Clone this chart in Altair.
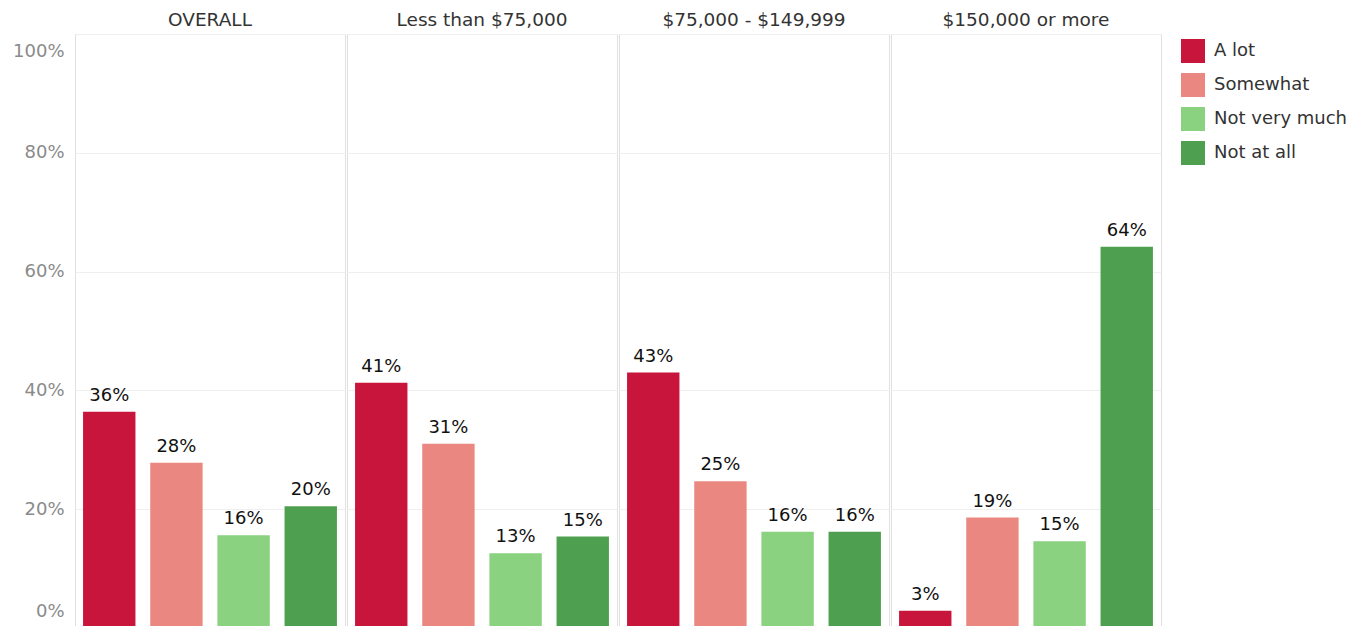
import altair as alt
import pandas as pd

groups = ["OVERALL", "Less than $75,000", "$75,000 - $149,999", "$150,000 or more"]
responses = ["A lot", "Somewhat", "Not very much", "Not at all"]
colors = ["#c8153b", "#ea8781", "#8ad180", "#4ea050"]

overall = [36.4, 27.8, 15.6, 20.5]
less_75k = [41.3, 31.0, 12.6, 15.4]
mid_75k_150k = [43.0, 24.7, 16.2, 16.2]
over_150k = [2.9, 18.6, 14.6, 64.2]

overall_lbl = ["36%", "28%", "16%", "20%"]
less_75k_lbl = ["41%", "31%", "13%", "15%"]
mid_75k_150k_lbl = ["43%", "25%", "16%", "16%"]
over_150k_lbl = ["3%", "19%", "15%", "64%"]

rows = []
for g, vals, lbls in zip(groups,
                         [overall, less_75k, mid_75k_150k, over_150k],
                         [overall_lbl, less_75k_lbl, mid_75k_150k_lbl, over_150k_lbl]):
    for r, v, l in zip(responses, vals, lbls):
        rows.append({"group": g, "response": r, "value": v / 100.0, "label": l})
df = pd.DataFrame(rows)

FONT = "DejaVu Sans"

x_enc = alt.X("response:N", sort=responses, axis=None,
              scale=alt.Scale(paddingInner=0.22, paddingOuter=0.12))
y_enc = alt.Y("value:Q",
              scale=alt.Scale(domain=[0, 1]),
              axis=alt.Axis(title=None, format=".0%", values=[0, 0.2, 0.4, 0.6, 0.8, 1.0],
                            labelFontSize=18, labelColor="#8a8a8a", labelFont=FONT,
                            labelPadding=10, ticks=False, domain=False,
                            gridColor="#efefef", labelFlush=True, labelFlushOffset=-8))

bars = alt.Chart().mark_bar().encode(
    x=x_enc,
    y=y_enc,
    color=alt.Color("response:N", sort=responses,
                    scale=alt.Scale(domain=responses, range=colors),
                    legend=alt.Legend(title=None, symbolType="square", symbolSize=576,
                                      symbolStrokeWidth=0, labelFontSize=18, labelFont=FONT,
                                      labelColor="#333333", rowPadding=10, offset=14,
                                      padding=5, labelOffset=9)),
)

text = alt.Chart().mark_text(baseline="bottom", dy=-7, fontSize=18, font=FONT, color="#111111").encode(
    x=alt.X("response:N", sort=responses),
    y=alt.Y("value:Q"),
    text="label:N",
)

chart = alt.layer(bars, text, data=df).properties(width=270, height=594).facet(
    column=alt.Column("group:N", sort=groups,
                      header=alt.Header(title=None, labelFontSize=18.5, labelFont=FONT,
                                        labelColor="#333333", labelPadding=4))
).properties(spacing=0, padding={"left": 4, "top": 2, "right": 0, "bottom": 0}).configure_view(
    stroke="#e0e0e0"
).configure_facet(spacing=0)

chart.save("out.html", embed_options={"renderer": "svg", "actions": False})
